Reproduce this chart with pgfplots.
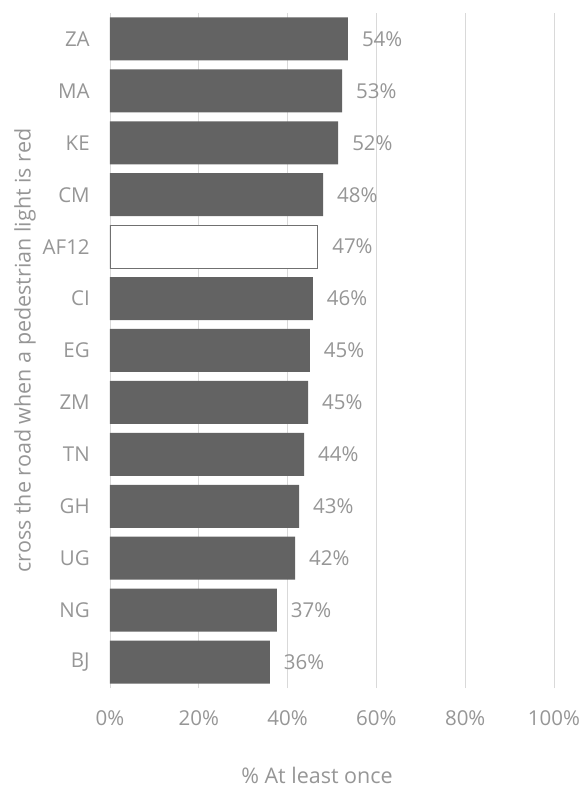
\documentclass[border=0pt]{standalone}
\usepackage{pgfplots}
\pgfplotsset{compat=1.18}
\usepackage{fontspec}
\setmainfont{Open Sans}
\definecolor{txt}{RGB}{150,150,150}
\definecolor{barc}{RGB}{99,99,99}
\definecolor{gridc}{RGB}{217,217,217}
\definecolor{edge}{RGB}{112,112,112}
\begin{document}
\fontsize{20.5bp}{24bp}\selectfont
\begin{tikzpicture}
\path[use as bounding box] (-110bp,-99bp) rectangle (471bp,688bp);
\begin{axis}[
  scale only axis, width=444bp, height=675bp,
  anchor=south west, at={(0,0)},
  xbar, bar width=43bp, bar shift=0pt,
  xmin=0, xmax=100, ymin=-0.5, ymax=12.5,
  xtick={0,20,...,100},
  xticklabel={\pgfmathprintnumber{\tick}\%},
  /pgf/number format/assume math mode=true,
  ytick={0,...,12},
  yticklabels={BJ,NG,UG,GH,TN,ZM,EG,CI,AF12,CM,KE,MA,ZA},
  xmajorgrids=true, ymajorgrids=false, grid style={draw=gridc, line width=1pt},
  axis line style={draw=none},
  major tick style={draw=none},
  tick label style={text=txt, font=\fontsize{20.5bp}{24bp}\selectfont},
  xticklabel style={anchor=center, yshift=-30bp},
  yticklabel style={anchor=east, xshift=-9bp},
  xlabel={\% At least once},
  ylabel={cross the road when a pedestrian light is red},
  label style={text=txt, font=\fontsize{21.5bp}{25bp}\selectfont},
  xlabel style={at={(axis description cs:0.5,0)}, anchor=center, yshift=-87bp, xshift=-15bp},
  ylabel style={at={(axis description cs:0,0.5)}, anchor=center, yshift=85bp},
  point meta=explicit symbolic,
  nodes near coords={\pgfplotspointmeta\%},
  nodes near coords style={anchor=west, xshift=7bp, text=txt, font=\fontsize{20.5bp}{24bp}\selectfont},
]
\addplot[fill=barc, draw=none] coordinates {
 (36.0,0) [36]
 (37.6,1) [37]
 (41.7,2) [42]
 (42.6,3) [43]
 (43.7,4) [44]
 (44.6,5) [45]
 (45.0,6) [45]
 (45.7,7) [46]
 (48.0,9) [48]
 (51.4,10) [52]
 (52.3,11) [53]
 (53.6,12) [54]
};
\addplot[fill=white, draw=edge, line width=1.3pt] coordinates {
 (46.8,8) [47]
};
\end{axis}
\end{tikzpicture}
\end{document}
